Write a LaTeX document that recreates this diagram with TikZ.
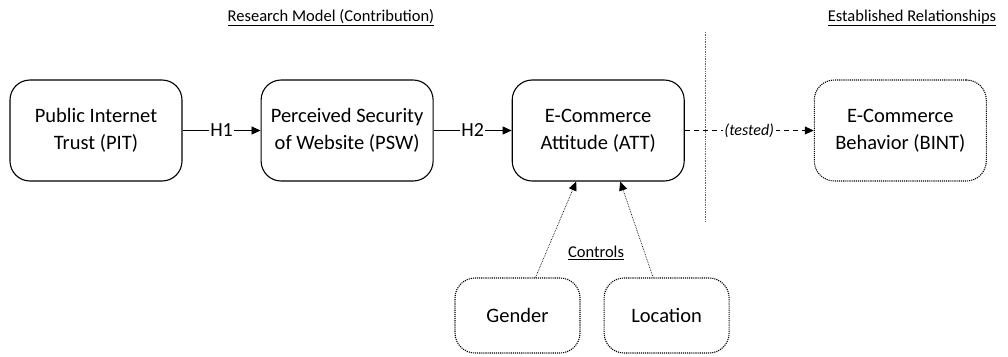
\documentclass[tikz,border=0pt]{standalone}
\usepackage{fontspec}
\setmainfont{Carlito}
\usetikzlibrary{arrows.meta, positioning}

\begin{document}
\begin{tikzpicture}[x=1pt, y=1pt, node distance=78pt,
    construct/.style={rectangle, rounded corners=20pt, draw, line width=1.1pt, minimum width=172pt, minimum height=101pt, align=center, font=\fontsize{20.5}{27}\selectfont},
    outside/.style={construct, densely dotted},
    control/.style={outside, minimum width=125pt, minimum height=75pt},
    hyp/.style={-{Triangle[length=9pt,width=8pt]}, line width=0.7pt},
    hyplabel/.style={fill=white, inner sep=1.5pt, font=\fontsize{20}{24}\selectfont},
    heading/.style={font=\fontsize{16.5}{19}\selectfont}]

    \useasboundingbox (0,0) rectangle (1008,-356);

    \node[heading] (model) at (331,-18) {\underline{Research Model (Contribution)}};
    \node[heading] (known) at (912,-18) {\underline{Established Relationships}};

    \node[construct] (pit) at (96,-130.5) {Public Internet\\Trust (PIT)};
    \node[construct, right=of pit] (psw) {Perceived Security\\of Website (PSW)};
    \node[construct, right=of psw] (att) {E-Commerce\\Attitude (ATT)};
    \node[outside, right=129pt of att] (bint) {E-Commerce\\Behavior (BINT)};
    \node[control] (gender) at (517.5,-315.5) {Gender};
    \node[control, right=23pt of gender] (loc) {Location};
    \node[heading] (controls) at (596,-253) {\underline{Controls}};

    \coordinate (divtop) at (705,-32);
    \coordinate (divbot) at (705,-222);
    \draw[gray!80!black, line width=0.5pt, dash pattern=on 0.7pt off 1pt] (divtop) -- (divbot);

    \draw[hyp] (pit) -- node[hyplabel] {H1} (psw);
    \draw[hyp] (psw) -- node[hyplabel] {H2} (att);
    \draw[hyp, dash pattern=on 5pt off 4pt] (att) -- node[hyplabel, font=\fontsize{16}{19}\selectfont] {\textit{(tested)}} (bint);
    \draw[hyp, densely dotted] ([xshift=18pt]gender.north) -- ([xshift=-22pt]att.south);
    \draw[hyp, densely dotted] ([xshift=-13.5pt]loc.north) -- ([xshift=22pt]att.south);
\end{tikzpicture}
\end{document}
